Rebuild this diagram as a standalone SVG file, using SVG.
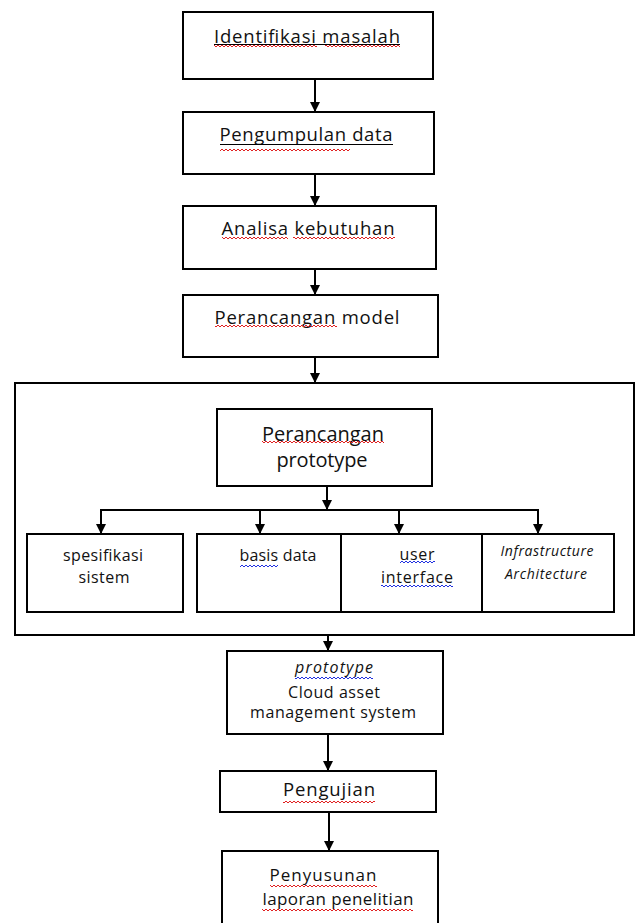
<svg xmlns="http://www.w3.org/2000/svg" width="635" height="923" viewBox="0 0 635 923">
<style>
.box{fill:#fff;stroke:#000;stroke-width:2}
.frame{fill:none;stroke:#000;stroke-width:2}
.t{font-family:"Open Sans","Liberation Sans",sans-serif;fill:#111;text-anchor:middle}
.t17{font-size:18.5px}
.t19{font-size:20px}
.t15{font-size:16px}
.tb{font-size:17px}
.ti{font-size:14px;font-style:italic}
.c{stroke:#000;stroke-width:2;fill:none}
.ul{stroke:#000;stroke-width:1.2}
</style>
<defs>
<marker id="ad" markerUnits="userSpaceOnUse" markerWidth="12" markerHeight="12" viewBox="0 0 12 12" refX="6" refY="11" orient="0">
<path d="M1,1 L11,1 L6,11 Z" fill="#000"/>
</marker>
<pattern id="wr" patternUnits="userSpaceOnUse" width="4" height="4">
<path d="M0,3 L2,1 L4,3" fill="none" stroke="#e02020" stroke-width="1"/>
</pattern>
<pattern id="wb" patternUnits="userSpaceOnUse" width="4" height="4">
<path d="M0,3 L2,1 L4,3" fill="none" stroke="#2030e0" stroke-width="1"/>
</pattern>
</defs>

<g id="group-prototype">
<rect class="frame" x="15" y="383" width="619" height="252"/>
</g>

<g id="connectors">
<line class="c" x1="315" y1="79" x2="315" y2="112" marker-end="url(#ad)"/>
<line class="c" x1="315" y1="174" x2="315" y2="206" marker-end="url(#ad)"/>
<line class="c" x1="315" y1="269" x2="315" y2="295" marker-end="url(#ad)"/>
<line class="c" x1="315" y1="357" x2="315" y2="383" marker-end="url(#ad)"/>
<line class="c" x1="327" y1="486" x2="327" y2="510" marker-end="url(#ad)"/>
<polyline class="c" points="101,534 101,510 538,510 538,534"/>
<line class="c" x1="101" y1="510" x2="101" y2="534" marker-end="url(#ad)"/>
<line class="c" x1="260" y1="510" x2="260" y2="534" marker-end="url(#ad)"/>
<line class="c" x1="399" y1="510" x2="399" y2="534" marker-end="url(#ad)"/>
<line class="c" x1="538" y1="510" x2="538" y2="534" marker-end="url(#ad)"/>
<line class="c" x1="328" y1="635" x2="328" y2="651" marker-end="url(#ad)"/>
<line class="c" x1="328" y1="734" x2="328" y2="771" marker-end="url(#ad)"/>
<line class="c" x1="329" y1="812" x2="329" y2="851" marker-end="url(#ad)"/>
</g>

<g id="identifikasi">
<rect class="box" x="183" y="12" width="250" height="67"/>
<text class="t t17" x="307" y="43" textLength="186" lengthAdjust="spacing">Identifikasi masalah</text>
<line class="ul" x1="214" y1="44.5" x2="400" y2="44.5"/>
<rect x="214" y="44" width="103" height="4" fill="url(#wr)"/>
<rect x="325" y="44" width="75" height="4" fill="url(#wr)"/>
</g>

<g id="pengumpulan">
<rect class="box" x="183" y="112" width="251" height="62"/>
<text class="t t17" x="306" y="141" textLength="173" lengthAdjust="spacing">Pengumpulan data</text>
<line class="ul" x1="220" y1="144.5" x2="393" y2="144.5"/>
<rect x="220" y="148" width="130" height="4" fill="url(#wr)"/>
</g>

<g id="analisa">
<rect class="box" x="183" y="206" width="253" height="63"/>
<text class="t t17" x="308" y="235" textLength="173" lengthAdjust="spacing">Analisa kebutuhan</text>
<rect x="222" y="236" width="66" height="4" fill="url(#wr)"/>
<rect x="293" y="236" width="102" height="4" fill="url(#wr)"/>
</g>

<g id="perancangan-model">
<rect class="box" x="183" y="295" width="255" height="62"/>
<text class="t t17" x="307" y="324" textLength="185" lengthAdjust="spacing">Perancangan model</text>
<rect x="215" y="324" width="122" height="4" fill="url(#wr)"/>
</g>

<g id="perancangan-prototype">
<rect class="box" x="217" y="409" width="215" height="77"/>
<text class="t t19" x="323" y="441" textLength="122" lengthAdjust="spacing">Perancangan</text>
<rect x="262" y="440" width="122" height="4" fill="url(#wr)"/>
<text class="t t19" x="322" y="467" textLength="91" lengthAdjust="spacing">prototype</text>
</g>

<g id="spesifikasi">
<rect class="box" x="27" y="534" width="156" height="78"/>
<text class="t t15" x="103" y="561" textLength="80" lengthAdjust="spacing">spesifikasi</text>
<text class="t t15" x="104" y="583" textLength="51" lengthAdjust="spacing">sistem</text>
</g>

<g id="basis-data">
<rect class="box" x="197" y="534" width="144" height="78"/>
<text class="t t15" x="278" y="561" textLength="77" lengthAdjust="spacing">basis data</text>
<rect x="240" y="564" width="38" height="4" fill="url(#wb)"/>
</g>

<g id="user-interface">
<rect class="box" x="341" y="534" width="141" height="78"/>
<text class="t t15" x="417" y="560" textLength="35" lengthAdjust="spacing">user</text>
<rect x="400" y="560" width="35" height="4" fill="url(#wb)"/>
<text class="t t15" x="417" y="583" textLength="72" lengthAdjust="spacing">interface</text>
<rect x="381" y="584" width="72" height="4" fill="url(#wb)"/>
</g>

<g id="infrastructure">
<rect class="box" x="482" y="534" width="132" height="78"/>
<text class="t ti" x="547" y="556" textLength="93" lengthAdjust="spacing">Infrastructure</text>
<text class="t ti" x="546" y="579" textLength="82" lengthAdjust="spacing">Architecture</text>
</g>

<g id="prototype-cams">
<rect class="box" x="227" y="651" width="216" height="83"/>
<text class="t t15" x="334" y="673" font-style="italic" textLength="78" lengthAdjust="spacing">prototype</text>
<rect x="295" y="676" width="78" height="4" fill="url(#wb)"/>
<text class="t t15" x="334" y="698" textLength="92" lengthAdjust="spacing">Cloud asset</text>
<text class="t t15" x="333" y="718" textLength="166" lengthAdjust="spacing">management system</text>
</g>

<g id="pengujian">
<rect class="box" x="220" y="771" width="216" height="41"/>
<text class="t t17" x="329" y="796" textLength="92" lengthAdjust="spacing">Pengujian</text>
<rect x="283" y="800" width="92" height="4" fill="url(#wr)"/>
</g>

<g id="penyusunan">
<rect class="box" x="222" y="851" width="216" height="80"/>
<text class="t tb" x="323" y="881" textLength="107" lengthAdjust="spacing">Penyusunan</text>
<rect x="270" y="884" width="107" height="4" fill="url(#wr)"/>
<text class="t tb" x="338" y="905" textLength="151" lengthAdjust="spacing">laporan penelitian</text>
<rect x="262" y="908" width="151" height="4" fill="url(#wr)"/>
</g>
</svg>
